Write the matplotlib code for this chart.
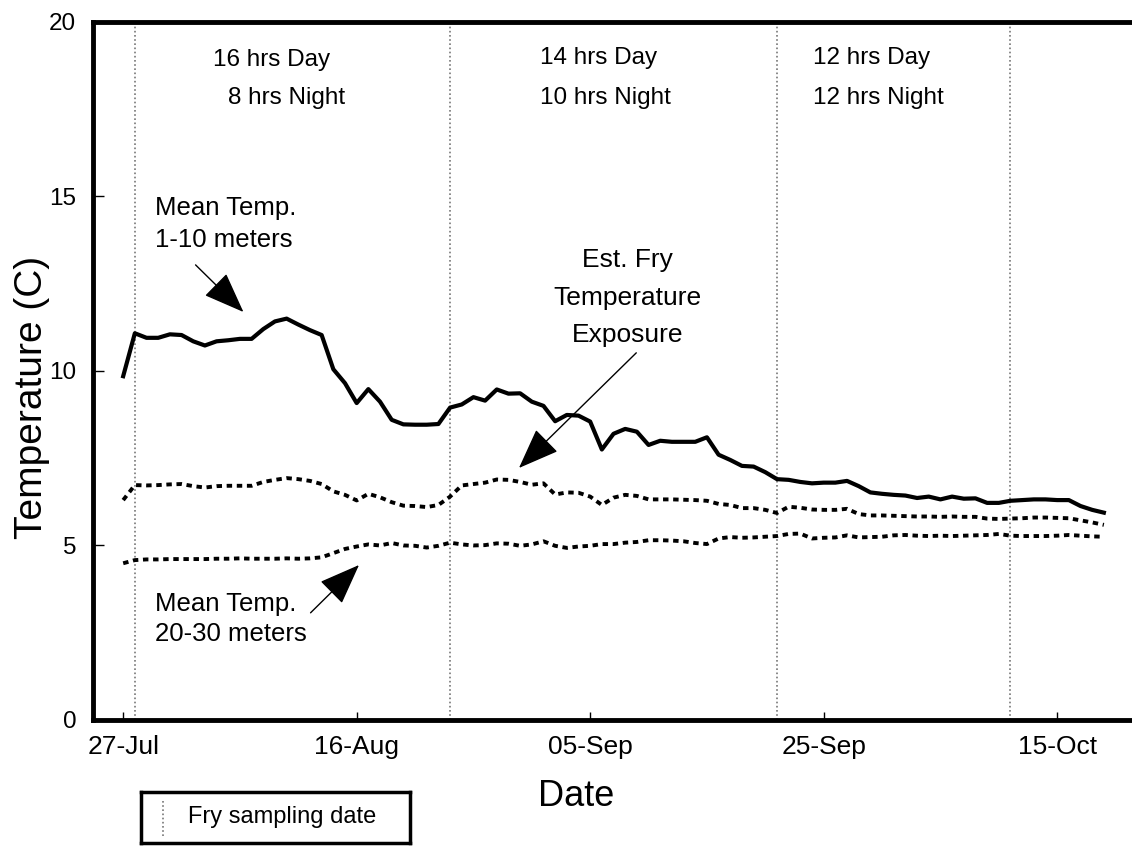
import pandas as pd
import matplotlib.pyplot as plt
import matplotlib.dates as mdates

plt.rcParams['font.family'] = ['Liberation Sans', 'DejaVu Sans']

start = pd.Timestamp('1999-07-27')
dates = pd.date_range(start, periods=85, freq='D')

# daily mean temperature, 1-10 m
temp_shallow = [
    9.85, 11.08, 10.95, 10.95, 11.05, 11.03, 10.85, 10.73, 10.85, 10.88,
    10.92, 10.92, 11.20, 11.42, 11.50, 11.33, 11.17, 11.03, 10.05, 9.65,
    9.08, 9.48, 9.12, 8.60, 8.47, 8.46, 8.46, 8.48, 8.95, 9.04,
    9.25, 9.15, 9.47, 9.35, 9.36, 9.12, 9.00, 8.56, 8.74, 8.72,
    8.55, 7.75, 8.20, 8.34, 8.26, 7.88, 8.00, 7.97, 7.97, 7.97,
    8.10, 7.60, 7.45, 7.28, 7.26, 7.10, 6.90, 6.88, 6.82, 6.78,
    6.80, 6.80, 6.85, 6.70, 6.52, 6.48, 6.45, 6.43, 6.36, 6.40,
    6.32, 6.40, 6.34, 6.35, 6.22, 6.22, 6.28, 6.30, 6.32, 6.32,
    6.30, 6.30, 6.13, 6.02, 5.94,
]

# estimated fry temperature exposure
temp_fry = [
    6.30, 6.73, 6.72, 6.73, 6.75, 6.76, 6.70, 6.66, 6.70, 6.71,
    6.71, 6.71, 6.82, 6.88, 6.93, 6.90, 6.85, 6.76, 6.55, 6.45,
    6.29, 6.48, 6.38, 6.24, 6.14, 6.13, 6.10, 6.16, 6.40, 6.72,
    6.76, 6.80, 6.89, 6.88, 6.82, 6.74, 6.78, 6.46, 6.52, 6.51,
    6.40, 6.16, 6.37, 6.45, 6.42, 6.32, 6.32, 6.32, 6.31, 6.30,
    6.28, 6.19, 6.16, 6.07, 6.07, 6.02, 5.93, 6.11, 6.08, 6.03,
    6.02, 6.02, 6.05, 5.90, 5.86, 5.86, 5.85, 5.84, 5.83, 5.83,
    5.82, 5.83, 5.82, 5.82, 5.77, 5.76, 5.77, 5.78, 5.80, 5.80,
    5.79, 5.78, 5.72, 5.66, 5.59,
]

# daily mean temperature, 20-30 m
temp_deep = [
    4.49, 4.58, 4.60, 4.60, 4.61, 4.61, 4.61, 4.61, 4.62, 4.62,
    4.63, 4.62, 4.62, 4.62, 4.63, 4.62, 4.63, 4.66, 4.78, 4.90,
    4.97, 5.03, 5.00, 5.07, 5.00, 4.99, 4.94, 4.99, 5.08, 5.03,
    5.00, 5.01, 5.06, 5.05, 4.99, 5.03, 5.12, 4.99, 4.93, 4.97,
    4.99, 5.04, 5.04, 5.08, 5.10, 5.15, 5.15, 5.14, 5.12, 5.07,
    5.04, 5.20, 5.24, 5.22, 5.23, 5.25, 5.27, 5.33, 5.34, 5.20,
    5.22, 5.23, 5.29, 5.23, 5.24, 5.25, 5.29, 5.30, 5.28, 5.27,
    5.28, 5.27, 5.28, 5.29, 5.30, 5.33, 5.28, 5.27, 5.27, 5.27,
    5.28, 5.30, 5.28, 5.26, 5.25,
]

sampling_dates = pd.to_datetime(['1999-07-28', '1999-08-24', '1999-09-21', '1999-10-11'])
tick_dates = pd.date_range(start, periods=5, freq='20D')

photoperiods = [
    ('16 hrs Day', 7.7, 18.9), ('8 hrs Night', 9.0, 17.82),
    ('14 hrs Day', 35.7, 18.97), ('10 hrs Night', 35.7, 17.82),
    ('12 hrs Day', 59.1, 18.97), ('12 hrs Night', 59.1, 17.82),
]


def day(d):
    return mdates.date2num(start) + d


fig = plt.figure(figsize=(11.32, 8.46), dpi=100)
ax = fig.add_axes([0.082, 0.149, 0.921, 0.825])

for d in sampling_dates:
    ax.axvline(d, color='#777777', lw=1.2, ls=(0, (1, 1.5)), zorder=1)

ax.plot(dates, temp_shallow, color='black', lw=3.0, solid_joinstyle='round', zorder=3)
ax.plot(dates, temp_fry, color='black', lw=2.8, ls=(0, (1.4, 1.2)), zorder=3)
ax.plot(dates, temp_deep, color='black', lw=2.8, ls=(0, (1.4, 1.2)), zorder=3)

ax.set_xlim(day(-2.6), day(86.7))
ax.set_ylim(0, 20)
ax.set_yticks([0, 5, 10, 15, 20])
ax.set_xticks(tick_dates)
ax.xaxis.set_major_formatter(mdates.DateFormatter('%d-%b'))

for s in ax.spines.values():
    s.set_linewidth(3.5)
ax.tick_params(axis='y', direction='in', length=8, width=1, labelsize=17.5, pad=12)
ax.tick_params(axis='x', direction='in', length=6, width=1, labelsize=19, pad=11)

fig.text(0.028, 0.53, 'Temperature (C)', rotation=90, ha='center', va='center', fontsize=28)
fig.text(0.509, 0.058, 'Date', ha='center', va='center', fontsize=26)

for label, d, y in photoperiods:
    ax.text(day(d), y, label, ha='left', va='center', fontsize=17.5)

arrow = dict(arrowstyle='-|>,head_length=1.3,head_width=0.5', mutation_scale=20,
             lw=1, color='black', shrinkA=0, shrinkB=0)

ax.text(day(2.75), 14.21, 'Mean Temp.\n1-10 meters', ha='left', va='center',
        fontsize=18.5, linespacing=1.45)
ax.annotate('', xy=(day(10.3), 11.69), xytext=(day(6.2), 13.04), arrowprops=arrow)

ax.text(day(43.2), 12.1, 'Est. Fry\nTemperature\nExposure', ha='center', va='center',
        multialignment='center', fontsize=19, linespacing=1.7)
ax.annotate('', xy=(day(33.9), 7.22), xytext=(day(43.95), 10.52), arrowprops=arrow)

ax.text(day(2.75), 2.88, 'Mean Temp.\n20-30 meters', ha='left', va='center',
        fontsize=18.5, linespacing=1.32)
ax.annotate('', xy=(day(20.2), 4.44), xytext=(day(16.05), 3.07), arrowprops=arrow)

# boxed key for the sampling-date lines
key = fig.add_axes([0.1245, 0.003, 0.2375, 0.0614])
key.set_xlim(0, 1)
key.set_ylim(0, 1)
key.set_xticks([])
key.set_yticks([])
for s in key.spines.values():
    s.set_linewidth(2.5)
key.plot([0.082, 0.082], [0.15, 0.85], color='#777777', lw=1.2, ls=(0, (1, 1.5)))
key.text(0.175, 0.5, 'Fry sampling date', ha='left', va='center', fontsize=17)

fig.savefig('out.png', dpi=100)
